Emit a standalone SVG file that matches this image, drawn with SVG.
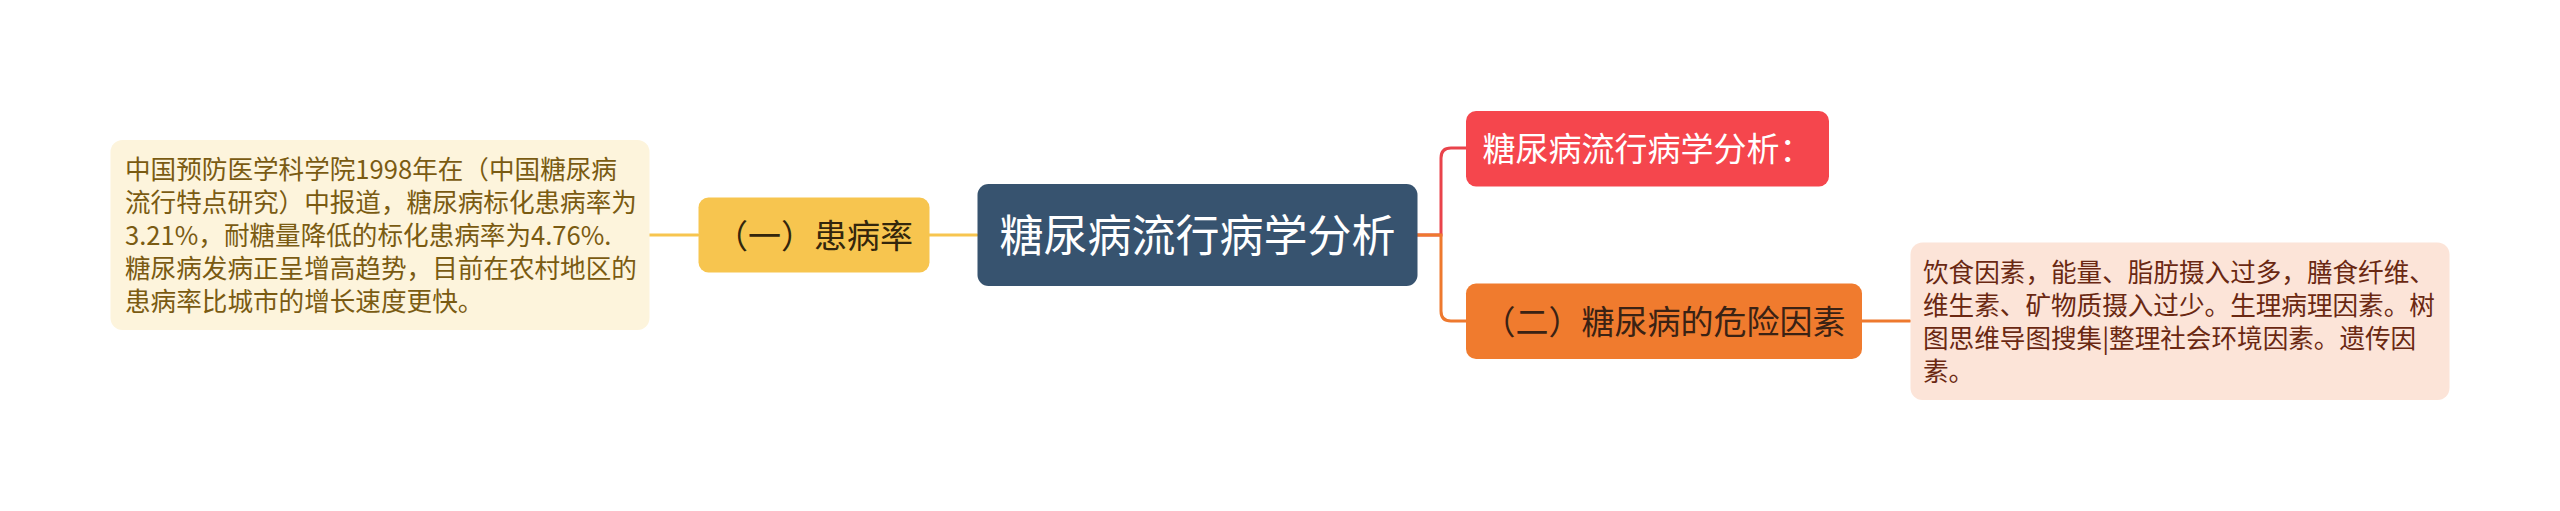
<svg xmlns="http://www.w3.org/2000/svg" width="2560" height="511" viewBox="0 0 2560 511">
<style>
text{font-family:"Noto Sans CJK SC","Noto Sans",sans-serif;}
.box{font-size:25.6px;}
.l1{font-size:33px;text-anchor:middle;}
.root{font-size:44px;text-anchor:middle;fill:#ffffff;}
.c{fill:none;stroke-width:3;stroke-linecap:round;}
</style>
<rect width="2560" height="511" fill="#ffffff"/>
<g id="connectors">
<path class="c" stroke="#f7c54f" d="M649 235 H698"/>
<path class="c" stroke="#f7c54f" d="M929 235 H977"/>
<path class="c" stroke="#e9434b" d="M1417 235 H1441 V158 Q1441 148 1451 148 H1466"/>
<path class="c" stroke="#ee792e" d="M1417 235 H1441 V311 Q1441 321 1451 321 H1466"/>
<path class="c" stroke="#ee792e" d="M1862 321 H1910"/>
</g>
<g id="node-left-detail">
<rect x="110.5" y="140" width="539" height="190" rx="12" fill="#fdf4dc"/>
<g class="box" fill="#7a5b12">
<text x="125" y="179">中国预防医学科学院1998年在（中国糖尿病</text>
<text x="125" y="212">流行特点研究）中报道，糖尿病标化患病率为</text>
<text x="125" y="245">3.21%，耐糖量降低的标化患病率为4.76%.</text>
<text x="125" y="278">糖尿病发病正呈增高趋势，目前在农村地区的</text>
<text x="125" y="311">患病率比城市的增长速度更快。</text>
</g>
</g>
<g id="node-incidence">
<rect x="698.5" y="197.5" width="231" height="75" rx="10" fill="#f7c54f"/>
<text class="l1" x="814" y="247.5" fill="#33260c">（一）患病率</text>
</g>
<g id="node-root">
<rect x="977.5" y="184" width="440" height="102" rx="11" fill="#37536f"/>
<text class="root" x="1197.5" y="251.5">糖尿病流行病学分析</text>
</g>
<g id="node-analysis">
<rect x="1466" y="111" width="363" height="75.5" rx="10" fill="#f5464d"/>
<text class="l1" x="1647.5" y="161" fill="#ffffff">糖尿病流行病学分析：</text>
</g>
<g id="node-risk">
<rect x="1466" y="283.5" width="396" height="75.5" rx="10" fill="#f07b2e"/>
<text class="l1" x="1664" y="334" fill="#3a2214">（二）糖尿病的危险因素</text>
</g>
<g id="node-right-detail">
<rect x="1910.5" y="242.5" width="539" height="157.5" rx="12" fill="#fce4d8"/>
<g class="box" fill="#6a2812">
<text x="1923" y="281.5">饮食因素，能量、脂肪摄入过多，膳食纤维、</text>
<text x="1923" y="314.5">维生素、矿物质摄入过少。生理病理因素。树</text>
<text x="1923" y="347.5">图思维导图搜集|整理社会环境因素。遗传因</text>
<text x="1923" y="380.5">素。</text>
</g>
</g>
</svg>
